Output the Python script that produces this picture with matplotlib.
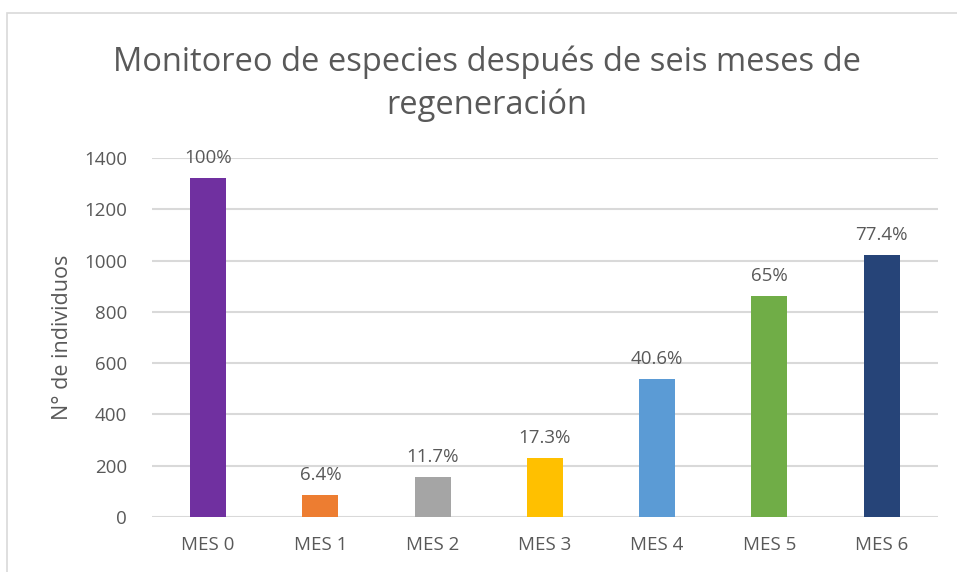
import matplotlib.pyplot as plt
from matplotlib.patches import Rectangle

# Datos
meses = ["MES 0", "MES 1", "MES 2", "MES 3", "MES 4", "MES 5", "MES 6"]
individuos = [1322, 85, 155, 229, 537, 860, 1023]
etiquetas = ["100%", "6.4%", "11.7%", "17.3%", "40.6%", "65%", "77.4%"]
colores = ["#7030A0", "#ED7D31", "#A5A5A5", "#FFC000", "#5B9BD5", "#70AD47", "#264478"]

plt.rcParams['font.family'] = ['Open Sans', 'DejaVu Sans']
gris = "#595959"

fig = plt.figure(figsize=(9.57, 5.72), dpi=100)
ax = fig.add_axes([0.1588, 0.0962, 0.8212, 0.6276])

x = range(len(meses))
barras = ax.bar(x, individuos, width=0.32, color=colores, zorder=3)

for b, txt in zip(barras, etiquetas):
    ax.annotate(txt, (b.get_x() + b.get_width() / 2, b.get_height()),
                xytext=(0, 8), textcoords="offset points",
                ha="center", va="bottom", fontsize=13.5, color=gris)

ax.set_xlim(-0.5, 6.5)
ax.set_ylim(0, 1400)
ax.set_yticks(range(0, 1401, 200))
ax.set_xticks(list(x))
ax.set_xticklabels(meses)
ax.tick_params(axis="both", length=0, labelsize=13.5, labelcolor=gris)
ax.tick_params(axis="x", pad=14)
ax.tick_params(axis="y", pad=18)
ax.grid(axis="y", color="#D9D9D9", linewidth=1.5, zorder=0)
for s in ax.spines.values():
    s.set_visible(False)

ax.set_ylabel("N° de individuos", fontsize=15.5, color=gris, labelpad=8)

fig.text(0.509, 0.853, "Monitoreo de especies después de seis meses de\nregeneración",
         ha="center", va="center", fontsize=23.5, color=gris, linespacing=1.38)

# marco del gráfico
fig.patches.append(Rectangle((7 / 957, -0.01), 1.0, 1 - 13 / 572 + 0.01,
                             transform=fig.transFigure, fill=False,
                             edgecolor="#D9D9D9", linewidth=1.2))

fig.savefig("out.png", dpi=100)
